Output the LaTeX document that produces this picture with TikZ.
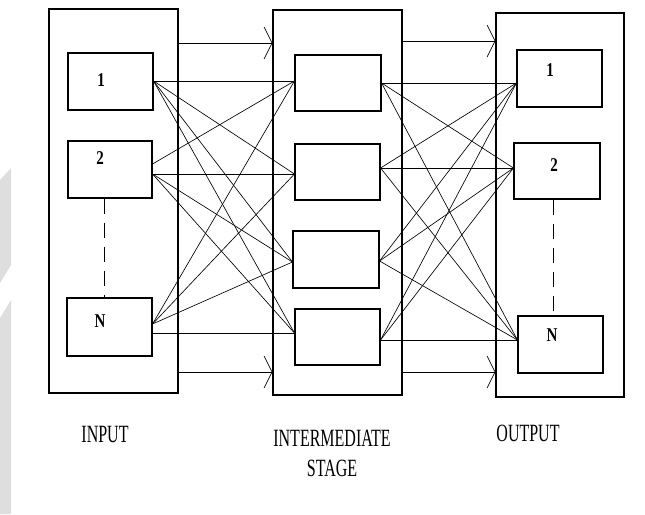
\documentclass[tikz,border=0pt]{standalone}
\usepackage{fontspec}
\setmainfont{Liberation Serif}
\usepackage{graphicx}
\usetikzlibrary{arrows.meta,calc}
\tikzset{
  outerbox/.style={draw, line width=1.1pt, inner sep=0pt, minimum width=#1},
  innerbox/.style={draw, line width=1.1pt, inner sep=0pt},
  link/.style={line width=0.65pt},
  hlink/.style={line width=1pt},
  stagearrow/.style={line width=0.9pt, -{Straight Barb[length=8pt,width=32pt,line width=0.7pt]}},
  dashlink/.style={line width=0.75pt, dash pattern=on 15pt off 9pt},
  caption/.style={inner sep=0pt, font=\fontsize{16}{16}\selectfont},
  numlabel/.style={inner sep=0pt, font=\fontsize{15}{15}\selectfont\bfseries}
}
\newcommand{\tall}[1]{\scalebox{1}[1.55]{#1}}
\newcommand{\numtall}[1]{\scalebox{1}[1.3]{#1}}
\begin{document}
\begin{tikzpicture}[x=1pt,y=-1pt]
\useasboundingbox (0,0) rectangle (645,514);
% watermark strip
\fill[black!13] (0,180) -- (11,168) -- (11,265) -- (0,283) -- cycle;
\fill[black!13] (0,318) -- (11,300) -- (11,514) -- (0,514) -- cycle;

% outer boxes
\node[outerbox=129pt, minimum height=384pt] (inO) at (113.5,201) {};
\node[outerbox=129pt, minimum height=385pt] (midO) at (337.5,202.5) {};
\node[outerbox=128pt, minimum height=384pt] (outO) at (560,205) {};

% input boxes
\node[innerbox, minimum width=85pt, minimum height=57pt] (in1) at (110.5,81.5) {};
\node[innerbox, minimum width=84pt, minimum height=57pt] (in2) at (110,169.5) {};
\node[innerbox, minimum width=85pt, minimum height=58pt] (inN) at (109.5,327) {};
% intermediate boxes
\node[innerbox, minimum width=86pt, minimum height=56pt] (m1) at (338,83) {};
\node[innerbox, minimum width=85pt, minimum height=56pt] (m2) at (337.5,172) {};
\node[innerbox, minimum width=86pt, minimum height=57pt] (m3) at (336,259.5) {};
\node[innerbox, minimum width=85pt, minimum height=56pt] (m4) at (337.5,337) {};
% output boxes
\node[innerbox, minimum width=85pt, minimum height=57pt] (o1) at (559.5,78.5) {};
\node[innerbox, minimum width=86pt, minimum height=56pt] (o2) at (557,171) {};
\node[innerbox, minimum width=85pt, minimum height=57pt] (oN) at (560.5,344.5) {};

% labels in boxes
\node[numlabel] (l1) at (101,80) {\numtall{1}};
\node[numlabel] (l2) at (100,158) {\numtall{2}};
\node[numlabel] (lN) at (100,321) {\numtall{N}};
\node[numlabel] (r1) at (550,70) {\numtall{1}};
\node[numlabel] (r2) at (554,165) {\numtall{2}};
\node[numlabel] (rN) at (552,335) {\numtall{N}};

% dashed links
\draw[dashlink] (in2.south -| 104,0) -- (inN.north -| 104,0);
\draw[dashlink] (o2.south -| 553,0) -- (oN.north -| 553,0);

% ports
\coordinate (in1r) at (in1.east |- 0,81);
\coordinate (in2u) at (in2.east |- 0,164);
\coordinate (in2d) at (in2.east |- 0,174);
\coordinate (inNu) at (inN.east |- 0,324);
\coordinate (inNh) at (inN.east |- 0,333);
\coordinate (m1l) at (m1.west |- 0,81);
\coordinate (m2l) at (m2.west |- 0,174);
\coordinate (m3l) at (m3.west |- 0,262);
\coordinate (m4l) at (m4.west |- 0,333);
\coordinate (m1r) at (m1.east |- 0,83);
\coordinate (m2r) at (m2.east |- 0,168);
\coordinate (m3r) at (m3.east |- 0,261);
\coordinate (m4r) at (m4.east |- 0,340);
\coordinate (o1l) at (o1.west |- 0,83);
\coordinate (o2l) at (o2.west |- 0,168);
\coordinate (oNl) at (oN.west |- 0,340);

% input -> intermediate
\draw[hlink] (in1r) -- (m1l);
\draw[link] (in1r) -- (m2l);
\draw[link] (in1r) -- (m3l);
\draw[link] (in1r) -- (m4l);
\draw[link] (in2u) -- (m1l);
\draw[hlink] (in2d) -- (m2l);
\draw[link] (in2d) -- (m3l);
\draw[link] (in2d) -- (m4l);
\draw[link] (inNu) -- (m1l);
\draw[link] (inNu) -- (m2l);
\draw[link] (inNu) -- (m3l);
\draw[hlink] (inNh) -- (m4l);

% intermediate -> output
\draw[hlink] (m1r) -- (o1l);
\draw[link] (m1r) -- (o2l);
\draw[link] (m1r) -- (oNl);
\draw[link] (m2r) -- (o1l);
\draw[hlink] (m2r) -- (o2l);
\draw[link] (m2r) -- (oNl);
\draw[link] (m3r) -- (o1l);
\draw[link] (m3r) -- (o2l);
\draw[link] (m3r) -- (oNl);
\draw[link] (m4r) -- (o1l);
\draw[link] (m4r) -- (o2l);
\draw[hlink] (m4r) -- (oNl);

% stage arrows
\coordinate (a1s) at (inO.east |- 0,43);
\coordinate (a1e) at (midO.west |- 0,43);
\coordinate (a2s) at (inO.east |- 0,372);
\coordinate (a2e) at (midO.west |- 0,372);
\coordinate (a3s) at (midO.east |- 0,41);
\coordinate (a3e) at (outO.west |- 0,41);
\coordinate (a4s) at (midO.east |- 0,372);
\coordinate (a4e) at (outO.west |- 0,372);
\draw[stagearrow] (a1s) -- (a1e);
\draw[stagearrow] (a2s) -- (a2e);
\draw[stagearrow] (a3s) -- (a3e);
\draw[stagearrow] (a4s) -- (a4e);

% captions
\node[caption] (capIn) at (105,434) {\tall{INPUT}};
\node[caption] (capMid) at (332,438) {\tall{INTERMEDIATE}};
\node[caption] (capMid2) at (332,468) {\tall{STAGE}};
\node[caption] (capOut) at (528,433) {\tall{OUTPUT}};
\end{tikzpicture}
\end{document}
